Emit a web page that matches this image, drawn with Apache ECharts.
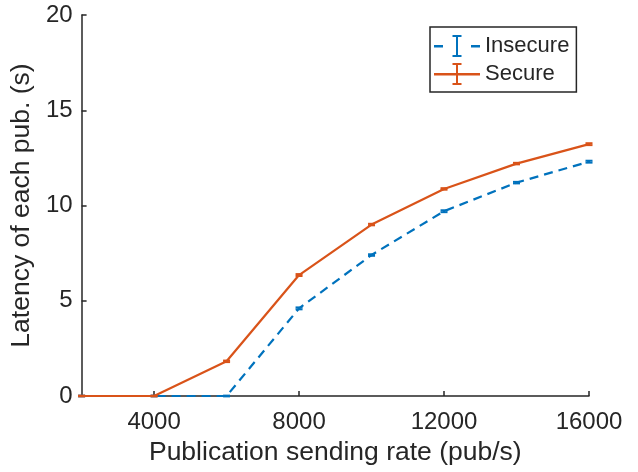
<!DOCTYPE html>
<html>
<head>
<meta charset="utf-8">
<script src="https://cdn.jsdelivr.net/npm/echarts@6/dist/echarts.min.js"></script>
<style>html,body{margin:0;padding:0;background:#fff}#c{width:638px;height:472px}</style>
</head>
<body>
<div id="c"></div>
<script>
var rates = [2000, 4000, 6000, 8000, 10000, 12000, 14000, 16000];
var insecure = [0, 0, 0, 4.6, 7.4, 9.7, 11.2, 12.3];
var insecureErr = [0.02, 0.02, 0.02, 0.05, 0.04, 0.05, 0.04, 0.05];
var secure = [0, 0, 1.82, 6.35, 9.0, 10.87, 12.2, 13.22];
var secureErr = [0.02, 0.02, 0.04, 0.05, 0.04, 0.04, 0.04, 0.05];
var xTicks = [4000, 8000, 12000, 16000];
var yTicks = [0, 5, 10, 15, 20];

var AX = '#262626';
var BLUE = '#0072BD';
var ORANGE = '#D95319';
var FONT = 'Liberation Sans';

function pairs(xs, ys) { return xs.map(function (x, i) { return [x, ys[i]]; }); }
function errData(xs, ys, es) { return xs.map(function (x, i) { return [x, ys[i], es[i]]; }); }

function errRender(color) {
  return function (params, api) {
    var x = api.value(0), y = api.value(1), e = api.value(2);
    var lo = api.coord([x, y - e]);
    var hi = api.coord([x, y + e]);
    var w = 3.5;
    var st = { stroke: color, lineWidth: 2 };
    return {
      type: 'group',
      children: [
        { type: 'line', shape: { x1: lo[0], y1: lo[1], x2: hi[0], y2: hi[1] }, style: st },
        { type: 'line', shape: { x1: lo[0] - w, y1: lo[1], x2: lo[0] + w, y2: lo[1] }, style: st },
        { type: 'line', shape: { x1: hi[0] - w, y1: hi[1], x2: hi[0] + w, y2: hi[1] }, style: st }
      ]
    };
  };
}

var iconInsecure = 'path://M0,10h9v2.5h-9z M18.5,0h9v2h-3.5v18h3.5v2h-9v-2h3.5v-18h-3.5z M37,10h9v2.5h-9z';
var iconSecure = 'path://M0,10h46v2.5h-46z M18.5,0h9v2h-3.5v18h3.5v2h-9v-2h3.5v-18h-3.5z';

var chart = echarts.init(document.getElementById('c'), null, { renderer: 'canvas' });
chart.setOption({
  animation: false,
  backgroundColor: '#ffffff',
  textStyle: { fontFamily: FONT },
  grid: { left: 81, right: 49, top: 15, bottom: 76, containLabel: false },
  legend: {
    orient: 'vertical',
    left: 430,
    top: 27,
    padding: [8, 7, 7, 4],
    itemGap: 6,
    itemWidth: 46,
    itemHeight: 22,
    borderColor: AX,
    borderWidth: 1.5,
    backgroundColor: '#ffffff',
    textStyle: { fontFamily: FONT, fontSize: 22, color: AX },
    data: [
      { name: 'Insecure', icon: iconInsecure },
      { name: 'Secure', icon: iconSecure }
    ]
  },
  xAxis: {
    type: 'value',
    min: 2000,
    max: 16000,
    interval: 2000,
    name: 'Publication sending rate (pub/s)',
    nameLocation: 'middle',
    nameGap: 42,
    nameTextStyle: { fontFamily: FONT, fontSize: 26.5, color: AX },
    axisLine: { show: true, onZero: false, lineStyle: { color: AX, width: 1.5 } },
    axisTick: { show: true, inside: true, length: 5, customValues: xTicks, lineStyle: { color: AX, width: 1.5 } },
    axisLabel: {
      customValues: xTicks, fontFamily: FONT, fontSize: 24, color: AX, margin: 14,
      formatter: function (v) { return String(v); }
    },
    splitLine: { show: false }
  },
  yAxis: {
    type: 'value',
    min: 0,
    max: 20,
    interval: 5,
    name: 'Latency of each pub. (s)',
    nameLocation: 'middle',
    nameGap: 40,
    nameTextStyle: { fontFamily: FONT, fontSize: 26.5, color: AX },
    axisLine: { show: true, lineStyle: { color: AX, width: 1.5 } },
    axisTick: { show: true, inside: true, length: 5, lineStyle: { color: AX, width: 1.5 } },
    axisLabel: { customValues: yTicks, fontFamily: FONT, fontSize: 24, color: AX, margin: 9 },
    splitLine: { show: false }
  },
  series: [
    {
      name: 'Insecure',
      type: 'line',
      data: pairs(rates, insecure),
      symbol: 'none',
      clip: false,
      color: BLUE,
      lineStyle: { color: BLUE, width: 2.2, type: [9, 6] },
      z: 3
    },
    {
      name: 'InsecureErr',
      type: 'custom',
      data: errData(rates, insecure, insecureErr),
      renderItem: errRender(BLUE),
      clip: false,
      z: 3
    },
    {
      name: 'Secure',
      type: 'line',
      data: pairs(rates, secure),
      symbol: 'none',
      clip: false,
      color: ORANGE,
      lineStyle: { color: ORANGE, width: 2.2 },
      z: 4
    },
    {
      name: 'SecureErr',
      type: 'custom',
      data: errData(rates, secure, secureErr),
      renderItem: errRender(ORANGE),
      clip: false,
      z: 4
    }
  ]
});
</script>
</body>
</html>
